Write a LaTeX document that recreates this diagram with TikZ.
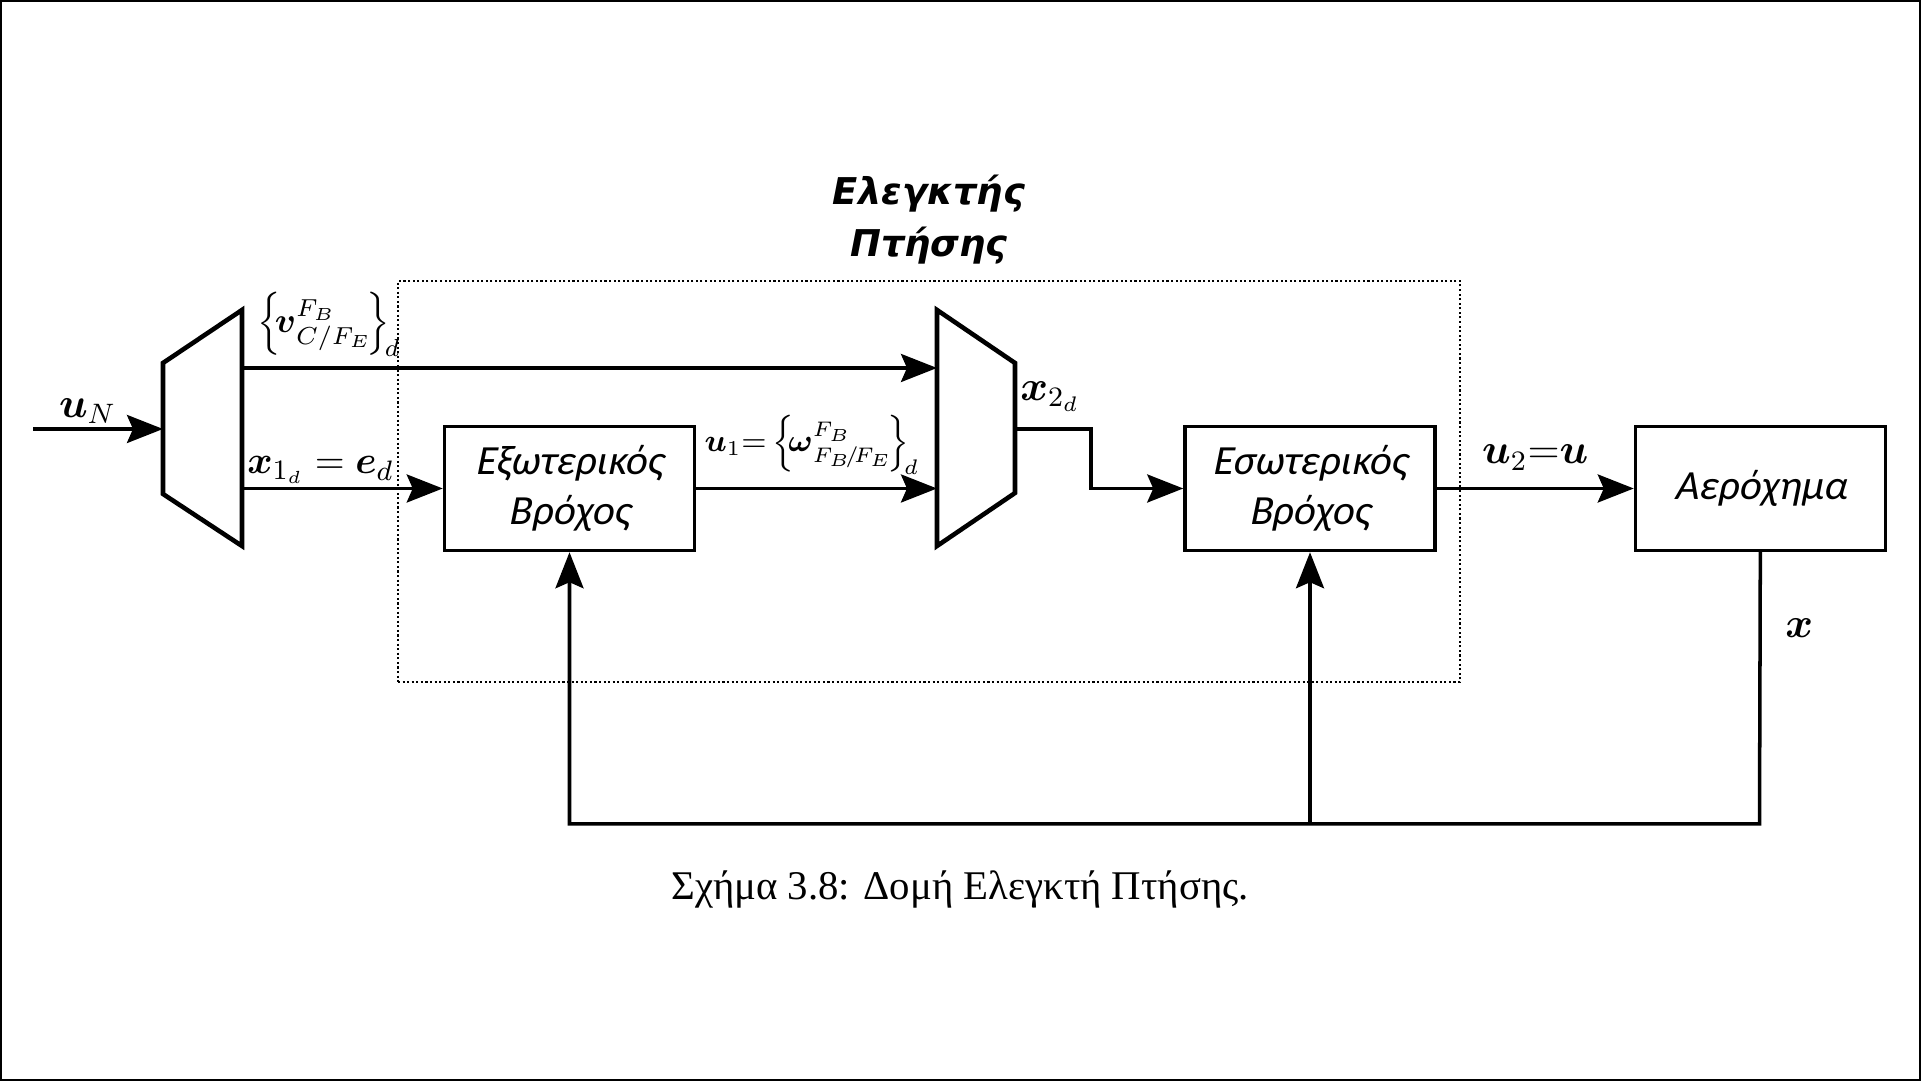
\documentclass[tikz,border=0pt]{standalone}
\usepackage{amsmath}
\usepackage{fontspec}
\usepackage{tikz}
\usetikzlibrary{positioning,arrows.meta}
\newfontfamily\blkfont{Carlito}[FakeSlant=0.2]
\newfontfamily\ttlfont{DejaVu Sans}
\newfontfamily\capfont{Liberation Serif}

\begin{document}
\begin{tikzpicture}[
  every node/.style={font=\fontsize{12}{14}\selectfont},
  blk/.style={draw, line width=1pt, minimum width=2.5cm, minimum height=1.24cm,
              align=center, inner sep=2pt, font=\blkfont\fontsize{11.8}{14.2}\selectfont},
  mux/.style={draw, line width=1.3pt, line join=miter},
  wire/.style={line width=1pt},
  sig/.style={wire, -{Stealth[length=3.6mm, width=2.8mm, inset=0.6mm]}},
  grp/.style={draw, line width=0.6pt, dash pattern=on 0.6pt off 0.7pt,
              minimum width=10.62cm, minimum height=4.01cm, inner sep=0pt},
  ttl/.style={font=\ttlfont\bfseries\itshape\fontsize{10.5}{14.7}\selectfont, align=center, inner sep=0pt},
  lbl/.style={inner sep=1pt},
  brl/.style={lbl, font=\fontsize{9.6}{11}\selectfont},
  capt/.style={font=\capfont\fontsize{11.6}{13}\selectfont}
]
  \useasboundingbox (0,0) rectangle (19.21,-10.81);
  \draw[line width=0.6pt] (0.01,-0.01) rectangle (19.20,-10.80);

  % blocks
  \node[blk] (outer) at (5.695,-4.885) {Εξωτερικός\\Βρόχος};
  \node[blk, right=4.87cm of outer] (inner) {Εσωτερικός\\Βρόχος};
  \node[blk, right=1.97cm of inner] (plant) {Αερόχημα};

  \node[grp] (fc) at (9.29,-4.815) {};
  \node[ttl, above=1.5mm of fc] (fctitle) {Ελεγκτής\\Πτήσης};

  % demux / mux
  \draw[mux] (1.63,-3.63) -- (1.63,-4.94) -- (2.42,-5.46) -- (2.42,-3.10) -- cycle;
  \draw[mux] (9.37,-3.10) -- (9.37,-5.46) -- (10.15,-4.93) -- (10.15,-3.63) -- cycle;

  \coordinate (uN) at (0.33,-4.29);
  \coordinate (m1in) at (1.63,-4.29);
  \coordinate (m1a) at (2.42,-3.68);
  \coordinate (m1b) at (2.42,-4.885);
  \coordinate (m2a) at (9.37,-3.68);
  \coordinate (m2b) at (9.37,-4.885);
  \coordinate (m2out) at (10.15,-4.29);
  \coordinate (fb) at (17.595,-8.24);

  \draw[sig] (uN) -- node[lbl, above, pos=0.42] {$\boldsymbol{u}_N$} (m1in);
  \draw[sig] (m1a) -- node[brl, above right, pos=0, xshift=1mm, yshift=0.6mm]
    {$\left\{\!\boldsymbol{v}^{F_B}_{C/F_E}\!\right\}_{\!d}$} (m2a);
  \draw[sig] (m1b) -- node[lbl, above right, pos=0, font=\fontsize{11}{13}\selectfont]
    {$\boldsymbol{x}_{1_d}=\boldsymbol{e}_d$} (outer);
  \draw[sig] (outer) -- node[brl, above right, pos=0, xshift=0.3mm, yshift=0.9mm, font=\fontsize{9.2}{11}\selectfont]
    {$\boldsymbol{u}_1{=}\left\{\!\boldsymbol{\omega}^{F_B}_{F_B\!/\!F_E}\!\right\}_{\!d}$} (m2b);
  \draw[sig] (m2out) -- node[lbl, above right, pos=0, yshift=1.2mm] {$\boldsymbol{x}_{2_d}$} ++(0.76,0) |- (inner);
  \draw[sig] (inner) -- node[lbl, above, yshift=1.3mm] {$\boldsymbol{u}_2{=}\boldsymbol{u}$} (plant);

  % feedback
  \draw[sig] (plant) -- node[lbl, right, pos=0.28, xshift=2mm] {$\boldsymbol{x}$} (fb) -| (outer);
  \draw[sig] (fb -| inner.south) -- (inner);

  \node[capt, anchor=base] (caption) at (9.6,-9.0) {Σχήμα 3.8: Δομή Ελεγκτή Πτήσης.};
\end{tikzpicture}
\end{document}
